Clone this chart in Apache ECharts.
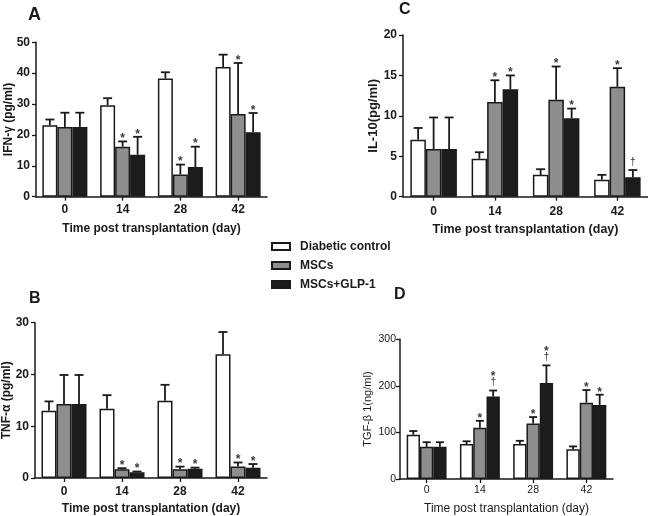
<!DOCTYPE html>
<html><head><meta charset="utf-8">
<script src="https://cdn.jsdelivr.net/npm/echarts@6/dist/echarts.min.js"></script>
<style>html,body{margin:0;padding:0;background:#fff}#c{width:648px;height:516px}</style>
</head><body><div id="c"></div>
<script>
const days = ['0', '14', '28', '42'];
const groups = ['Diabetic control', 'MSCs', 'MSCs+GLP-1'];
const noMarks = ['', '', '', ''];

// Panel A: IFN-γ (pg/ml)
const ifnControl = [23.1, 29.6, 38.3, 42.0];
const ifnControlSD = [1.9, 2.3, 2.0, 4.0];
const ifnMSC = [22.6, 16.2, 7.2, 26.8];
const ifnMSCSD = [4.6, 1.7, 3.2, 16.5];
const ifnGLP = [22.6, 13.6, 9.6, 20.9];
const ifnGLPSD = [4.6, 5.8, 6.6, 6.2];
const ifnMSCMarks = ['', '*', '*', '*'];
const ifnGLPMarks = ['', '*', '*', '*'];

// Panel B: TNF-α (pg/ml)
const tnfControl = [13.0, 13.4, 14.9, 23.9];
const tnfControlSD = [1.8, 2.6, 3.1, 4.3];
const tnfMSC = [14.3, 1.7, 1.7, 2.2];
const tnfMSCSD = [5.6, 0.2, 0.5, 0.8];
const tnfGLP = [14.3, 1.1, 1.8, 2.0];
const tnfGLPSD = [5.6, 0.15, 0.2, 0.7];
const tnfMSCMarks = ['', '*', '*', '*'];
const tnfGLPMarks = ['', '*', '*', '*'];

// Panel C: IL-10 (pg/ml)
const il10Control = [7.05, 4.7, 2.7, 2.1];
const il10ControlSD = [1.45, 0.8, 0.7, 0.6];
const il10MSC = [5.9, 11.7, 12.0, 13.6];
const il10MSCSD = [3.9, 2.7, 4.1, 2.3];
const il10GLP = [5.9, 13.3, 9.7, 2.4];
const il10GLPSD = [3.9, 1.7, 1.2, 0.9];
const il10MSCMarks = ['', '*', '*', '*'];
const il10GLPMarks = ['', '*', '*', '†'];

// Panel D: TGF-β1 (ng/ml)
const tgfControl = [95, 75, 75, 64];
const tgfControlSD = [8, 6, 7, 6];
const tgfMSC = [69, 110, 119, 164];
const tgfMSCSD = [10, 15, 14, 27];
const tgfGLP = [69, 177, 206, 159];
const tgfGLPSD = [10, 13, 38, 22];
const tgfMSCMarks = ['', '*', '*', '*'];
const tgfGLPMarks = ['', '*†', '*†', '*'];

const fills = ['#ffffff', '#8e8e8e', '#1c1c1c'];
const ink = '#1a1a1a';
const FF = '"Liberation Sans", Arial, sans-serif';

const panels = [
  { letter: 'A', lx: 28, ly: 6, lsize: 18,
    means: [ifnControl, ifnMSC, ifnGLP], sds: [ifnControlSD, ifnMSCSD, ifnGLPSD], marks: [noMarks, ifnMSCMarks, ifnGLPMarks],
    yMax: 50, yInt: 10, yName: 'IFN-γ (pg/ml)',
    grid: { left: 36, top: 42.3, width: 231, height: 154.4 }, bw: 15, cap: 9,
    tickFont: { size: 12, weight: 'bold' }, xNameFont: { size: 12, weight: 'bold' }, yNameFont: { size: 12, weight: 'bold' },
    yNameGap: 21, xNameGap: 26, xLabelMargin: 7, yLabelMargin: 6 },
  { letter: 'B', lx: 29, ly: 291, lsize: 16,
    means: [tnfControl, tnfMSC, tnfGLP], sds: [tnfControlSD, tnfMSCSD, tnfGLPSD], marks: [noMarks, tnfMSCMarks, tnfGLPMarks],
    yMax: 30, yInt: 10, yName: 'TNF-α (pg/ml)',
    grid: { left: 35, top: 322.7, width: 232, height: 155.3 }, bw: 15, cap: 9,
    tickFont: { size: 12, weight: 'bold' }, xNameFont: { size: 12, weight: 'bold' }, yNameFont: { size: 12, weight: 'bold' },
    yNameGap: 22, xNameGap: 25, xLabelMargin: 8, yLabelMargin: 6 },
  { letter: 'C', lx: 399, ly: 2, lsize: 16,
    means: [il10Control, il10MSC, il10GLP], sds: [il10ControlSD, il10MSCSD, il10GLPSD], marks: [noMarks, il10MSCMarks, il10GLPMarks],
    yMax: 20, yInt: 5, yName: 'IL-10(pg/ml)',
    grid: { left: 403, top: 35, width: 245, height: 161.7 }, bw: 15.5, cap: 9,
    tickFont: { size: 12, weight: 'bold' }, xNameFont: { size: 12.5, weight: 'bold' }, yNameFont: { size: 13, weight: 'bold' },
    yNameGap: 23, xNameGap: 26, xLabelMargin: 9, yLabelMargin: 6 },
  { letter: 'D', lx: 394, ly: 287, lsize: 16,
    means: [tgfControl, tgfMSC, tgfGLP], sds: [tgfControlSD, tgfMSCSD, tgfGLPSD], marks: [noMarks, tgfMSCMarks, tgfGLPMarks],
    yMax: 300, yInt: 100, yName: 'TGF-β 1(ng/ml)',
    grid: { left: 400, top: 339.3, width: 213, height: 142.4 }, bw: 13.3, cap: 8,
    tickFont: { size: 10.5, weight: 'normal' }, xNameFont: { size: 12, weight: 'normal' }, yNameFont: { size: 11, weight: 'normal' },
    yNameGap: 27, xNameGap: 24, xLabelMargin: 6, yLabelMargin: 4 }
];

const option = {
  animation: false,
  backgroundColor: '#fff',
  title: [], grid: [], xAxis: [], yAxis: [], series: [],
  legend: {
    data: groups, orient: 'vertical', left: 266, top: 235.5,
    icon: 'rect', itemWidth: 18, itemHeight: 7, itemGap: 7, selectedMode: false,
    textStyle: { fontFamily: FF, fontSize: 12, fontWeight: 'bold', color: ink, padding: [0, 0, 0, 5] }
  }
};

panels.forEach((p, pi) => {
  option.title.push({ text: p.letter, left: p.lx, top: p.ly, padding: 0,
    textStyle: { fontFamily: FF, fontSize: p.lsize, fontWeight: 'bold', color: ink } });
  option.grid.push(Object.assign({ containLabel: false }, p.grid));
  option.xAxis.push({
    type: 'category', gridIndex: pi, data: days,
    name: 'Time post transplantation (day)', nameLocation: 'middle', nameGap: p.xNameGap, nameMoveOverlap: false,
    nameTextStyle: { fontFamily: FF, fontSize: p.xNameFont.size, fontWeight: p.xNameFont.weight, color: ink },
    axisLine: { show: true, lineStyle: { color: ink, width: 1.5 } },
    axisTick: { show: true, alignWithLabel: true, length: 4, lineStyle: { color: ink, width: 1.3 } },
    axisLabel: { margin: p.xLabelMargin, fontFamily: FF, fontSize: p.tickFont.size, fontWeight: p.tickFont.weight, color: ink },
    splitLine: { show: false }
  });
  option.yAxis.push({
    type: 'value', gridIndex: pi, min: 0, max: p.yMax, interval: p.yInt,
    name: p.yName, nameLocation: 'middle', nameGap: p.yNameGap, nameMoveOverlap: false,
    nameTextStyle: { fontFamily: FF, fontSize: p.yNameFont.size, fontWeight: p.yNameFont.weight, color: ink },
    axisLine: { show: true, lineStyle: { color: ink, width: 1.5 } },
    axisTick: { show: true, length: 4, lineStyle: { color: ink, width: 1.3 } },
    axisLabel: { margin: p.yLabelMargin, fontFamily: FF, fontSize: p.tickFont.size, fontWeight: p.tickFont.weight, color: ink },
    splitLine: { show: false }
  });
  for (let s = 0; s < 3; s++) {
    option.series.push({
      type: 'bar', name: groups[s], xAxisIndex: pi, yAxisIndex: pi,
      barWidth: p.bw, barGap: '0%', data: p.means[s], silent: true,
      itemStyle: { color: fills[s], borderColor: ink, borderWidth: 1.5 }, z: 2
    });
  }
  const items = [];
  for (let s = 0; s < 3; s++) for (let c = 0; c < days.length; c++) {
    items.push([c, s, p.means[s][c], p.sds[s][c], p.marks[s][c]]);
  }
  option.series.push({
    type: 'custom', xAxisIndex: pi, yAxisIndex: pi, silent: true, z: 3,
    data: items.map(d => [d[0], d[2] + d[3]]),
    renderItem: function (params, api) {
      const d = items[params.dataIndex];
      const base = api.coord([d[0], d[2]]);
      const top = api.coord([d[0], d[2] + d[3]]);
      const x = base[0] + (d[1] - 1) * p.bw;
      const ch = [
        { type: 'line', shape: { x1: x, y1: base[1], x2: x, y2: top[1] }, style: { stroke: ink, lineWidth: 1.8 } },
        { type: 'line', shape: { x1: x - p.cap / 2, y1: top[1], x2: x + p.cap / 2, y2: top[1] }, style: { stroke: ink, lineWidth: 1.8 } }
      ];
      const m = d[4];
      if (m.indexOf('†') >= 0) {
        ch.push({ type: 'text', style: { text: '†', x: x, y: top[1] - 8, align: 'center', verticalAlign: 'middle', font: '10px ' + FF, fill: '#333' } });
      }
      if (m.indexOf('*') >= 0) {
        const off = m.indexOf('†') >= 0 ? 17 : 6;
        ch.push({ type: 'text', style: { text: '*', x: x, y: top[1] - off + 3.5, align: 'center', verticalAlign: 'middle', font: 'bold 12px ' + FF, fill: '#3a3a3a' } });
      }
      return { type: 'group', children: ch };
    }
  });
});

const chart = echarts.init(document.getElementById('c'), null, { renderer: 'canvas' });
chart.setOption(option);
</script>
</body></html>
